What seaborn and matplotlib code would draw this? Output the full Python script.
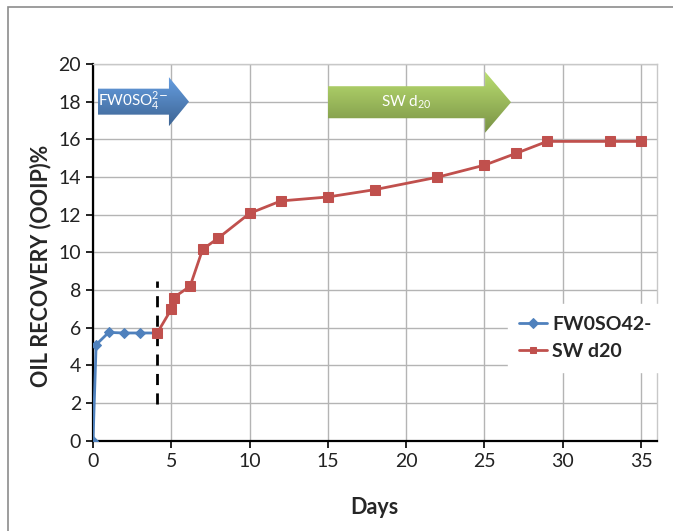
import numpy as np
import pandas as pd
import matplotlib
matplotlib.use("Agg")
import matplotlib.pyplot as plt
from matplotlib.patches import Polygon, Rectangle
import seaborn as sns

# Formation water without sulfate, then seawater d20 flooding
fw_days = [0, 0.2, 1, 2, 3, 4.1]
fw_recovery = [0, 5.1, 5.75, 5.72, 5.72, 5.72]

sw_days = [4.1, 5.0, 5.15, 6.2, 7.0, 8.0, 10.0, 12.0, 15.0, 18.0,
           22.0, 25.0, 27.0, 29.0, 33.0, 35.0]
sw_recovery = [5.72, 6.98, 7.6, 8.2, 10.16, 10.76, 12.07, 12.73, 12.94, 13.33,
               13.99, 14.63, 15.25, 15.89, 15.89, 15.89]

x_ticks = [0, 5, 10, 15, 20, 25, 30, 35]
y_ticks = [0, 2, 4, 6, 8, 10, 12, 14, 16, 18, 20]

switch_day = 4.1
switch_span = (1.95, 8.5)

fw_df = pd.DataFrame({"Days": fw_days, "Recovery": fw_recovery})
sw_df = pd.DataFrame({"Days": sw_days, "Recovery": sw_recovery})

sns.set_theme(style="white")
plt.rcParams["font.family"] = ["Lato", "DejaVu Sans"]
plt.rcParams["mathtext.fontset"] = "custom"
plt.rcParams["mathtext.rm"] = "Lato"

BLUE = "#4F81BD"
RED = "#C0504D"
GREEN = "#9BBB59"

fig = plt.figure(figsize=(6.73, 5.31), dpi=100)
ax = fig.add_axes([0.1382, 0.170, 0.8376, 0.7095])

# outer chart frame
fig.patches.append(Rectangle((8 / 673, -0.1), 1.2, 0.1 + 1 - 7 / 531,
                             transform=fig.transFigure, fill=False,
                             edgecolor="#8c8c8c", linewidth=1.2, zorder=0))

sns.lineplot(data=fw_df, x="Days", y="Recovery", ax=ax, sort=False,
             estimator=None, color=BLUE, marker="D", markersize=5,
             markeredgecolor=BLUE, linewidth=2, label="FW0SO42-", zorder=4)
sns.lineplot(data=sw_df, x="Days", y="Recovery", ax=ax, sort=False,
             estimator=None, color=RED, marker="s", markersize=7,
             markeredgecolor=RED, linewidth=2, label="SW d20", zorder=4)

ax.vlines(switch_day, *switch_span, colors="black", linestyles=(0, (4, 3)),
          linewidth=2, zorder=3)

ax.set_xlim(0, 36)
ax.set_ylim(0, 20)
ax.set_xticks(x_ticks)
ax.set_yticks(y_ticks)
ax.tick_params(axis="both", labelsize=14, length=5, width=1.2,
               direction="out", color="black", labelcolor="#222222",
               bottom=True, left=True)
ax.grid(True, color="#b4b4b4", linewidth=1)
ax.set_axisbelow(True)
for side in ("left", "bottom"):
    ax.spines[side].set_color("black")
    ax.spines[side].set_linewidth(1.6)
for side in ("top", "right"):
    ax.spines[side].set_color("#c8c8c8")
    ax.spines[side].set_linewidth(1)

ax.set_xlabel("Days", fontsize=15.5, fontweight="bold", labelpad=20)
ax.set_ylabel("OIL RECOVERY (OOIP)%", fontsize=15.5, fontweight="bold", labelpad=4)
ax.yaxis.set_label_coords(-0.074, 0.464)


def phase_arrow(x0, x1, yc, body, head, head_len, color, text):
    pts = [(x0, yc - body), (x1 - head_len, yc - body), (x1 - head_len, yc - head),
           (x1, yc), (x1 - head_len, yc + head), (x1 - head_len, yc + body),
           (x0, yc + body)]
    poly = Polygon(pts, closed=True, facecolor="none", edgecolor="none", zorder=5)
    ax.add_patch(poly)
    base = np.array(matplotlib.colors.to_rgb(color))
    grad = np.linspace(0, 1, 64)[:, None]
    light = np.clip(base * 1.12 + 0.05, 0, 1)
    dark = base * 0.78
    img = light[None, None, :] * (1 - grad[..., None]) + dark[None, None, :] * grad[..., None]
    img = np.repeat(img, 2, axis=1)
    im = ax.imshow(img, extent=(x0, x1, yc - head, yc + head), origin="upper",
                   aspect="auto", zorder=5, interpolation="bilinear")
    im.set_clip_path(poly)
    ax.text((x0 + x1 - head_len) / 2, yc, text, color="white", fontsize=11,
            ha="center", va="center", zorder=6)


phase_arrow(0.3, 6.13, 18.0, 0.69, 1.3, 1.28, BLUE, r"FW0SO$_4^{2\mathsf{-}}$")
phase_arrow(15.0, 26.7, 17.97, 0.85, 1.62, 1.66, GREEN, r"SW d$_{20}$")
ax.set_xlim(0, 36)
ax.set_ylim(0, 20)

leg = ax.legend(loc="center left", bbox_to_anchor=(498 / 673, 1 - 338 / 531),
                bbox_transform=fig.transFigure, frameon=True, fancybox=False,
                edgecolor="white", facecolor="white", framealpha=1,
                prop={"weight": "bold", "size": 14}, handlelength=1.4,
                handletextpad=0.3, labelspacing=0.5, borderpad=0.6)
for h in leg.legend_handles:
    h.set_markersize(5)

fig.savefig("out.png", dpi=100, facecolor="white")
